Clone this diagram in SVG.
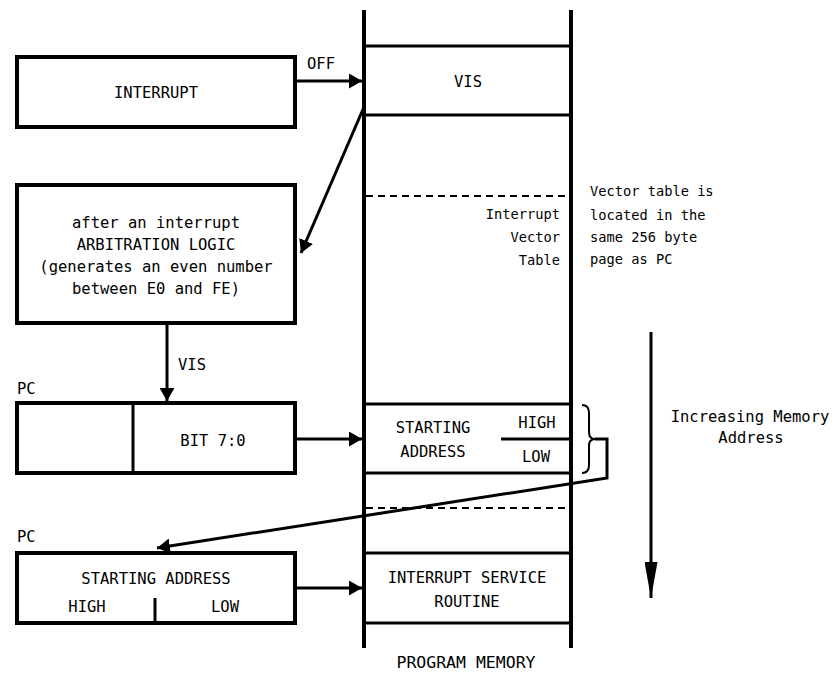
<svg xmlns="http://www.w3.org/2000/svg" width="834" height="673" viewBox="0 0 834 673">
<style>
.box{fill:#fff;stroke:#000;stroke-width:4}
.ln{stroke:#000;stroke-width:3;fill:none}
.thick{stroke:#000;stroke-width:4;fill:none}
.dash{stroke:#000;stroke-width:2;stroke-dasharray:7 5;fill:none}
.arr{stroke:#000;stroke-width:3;fill:none;marker-end:url(#ah)}
text{font-family:"DejaVu Sans Mono","Liberation Mono",monospace;font-size:15.5px;fill:#000}
.c{text-anchor:middle}
.r{text-anchor:end}
.s{font-size:13.7px}
</style>
<defs>
<marker id="ah" markerUnits="userSpaceOnUse" viewBox="0 0 13 15" refX="13" refY="7.5" markerWidth="13" markerHeight="15" orient="auto">
<path d="M0,0 L13,7.5 L0,15 z" fill="#000"/>
</marker>
<marker id="ahl" markerUnits="userSpaceOnUse" viewBox="0 0 36 13" refX="36" refY="6.5" markerWidth="36" markerHeight="13" orient="auto">
<path d="M0,0 L36,6.5 L0,13 z" fill="#000"/>
</marker>
</defs>

<g id="memory">
<line class="thick" x1="364" y1="10" x2="364" y2="648"/>
<line class="thick" x1="571" y1="10" x2="571" y2="648"/>
<line class="ln" x1="364" y1="46" x2="571" y2="46"/>
<line class="ln" x1="364" y1="115" x2="571" y2="115"/>
<text class="c" x="468" y="87">VIS</text>
<line class="dash" x1="366" y1="196" x2="569" y2="196"/>
<text class="r s" x="560" y="219">Interrupt</text>
<text class="r s" x="560" y="242">Vector</text>
<text class="r s" x="560" y="265">Table</text>
<line class="ln" x1="364" y1="404" x2="571" y2="404"/>
<line class="ln" x1="364" y1="473" x2="571" y2="473"/>
<line class="ln" x1="501" y1="439" x2="571" y2="439"/>
<text class="c" x="433" y="433">STARTING</text>
<text class="c" x="433" y="457">ADDRESS</text>
<text class="c" x="537" y="428">HIGH</text>
<text class="c" x="536" y="462">LOW</text>
<line class="dash" x1="366" y1="508" x2="569" y2="508"/>
<line class="ln" x1="364" y1="553" x2="571" y2="553"/>
<line class="ln" x1="364" y1="623" x2="571" y2="623"/>
<text class="c" x="467" y="583">INTERRUPT SERVICE</text>
<text class="c" x="467" y="607">ROUTINE</text>
<text class="c" x="466" y="668" style="font-size:16.5px">PROGRAM MEMORY</text>
</g>

<g id="brace">
<path class="ln" style="stroke-width:2" d="M582,405 Q589,405 589,413 L589,432 Q589,439 595,439 Q589,439 589,446 L589,465 Q589,473 582,473"/>
</g>

<g id="interrupt">
<rect class="box" x="17" y="57" width="278" height="70"/>
<text class="c" x="156" y="98">INTERRUPT</text>
</g>

<g id="arbitration">
<rect class="box" x="17" y="185" width="278" height="138"/>
<text class="c" x="156" y="228">after an interrupt</text>
<text class="c" x="156" y="250">ARBITRATION LOGIC</text>
<text class="c" x="156" y="272">(generates an even number</text>
<text class="c" x="156" y="294">between E0 and FE)</text>
</g>

<g id="pc1">
<text x="17" y="394">PC</text>
<rect class="box" x="17" y="403" width="278" height="70"/>
<line class="ln" x1="133" y1="403" x2="133" y2="473"/>
<text class="c" x="213" y="446">BIT 7:0</text>
</g>

<g id="pc2">
<text x="17" y="542">PC</text>
<rect class="box" x="17" y="553" width="278" height="70"/>
<text class="c" x="156" y="584">STARTING ADDRESS</text>
<text class="c" x="87" y="612">HIGH</text>
<text class="c" x="225" y="612">LOW</text>
<line class="ln" x1="155" y1="598" x2="155" y2="623"/>
</g>

<g id="note">
<text class="s" x="590" y="196">Vector table is</text>
<text class="s" x="590" y="220">located in the</text>
<text class="s" x="590" y="242">same 256 byte</text>
<text class="s" x="590" y="264">page as PC</text>
</g>

<g id="increasing">
<text class="c" x="750" y="422">Increasing Memory</text>
<text class="c" x="751" y="443">Address</text>
</g>

<g id="connectors">
<line class="arr" x1="297" y1="81" x2="362" y2="81"/>
<text x="307" y="69">OFF</text>
<line class="arr" x1="364" y1="107" x2="301" y2="253"/>
<line class="arr" x1="167" y1="325" x2="167" y2="401"/>
<text x="178" y="370">VIS</text>
<line class="arr" x1="297" y1="439" x2="362" y2="439"/>
<polyline class="arr" points="595,439 607,439 607,478 157,548"/>
<line class="arr" x1="297" y1="588" x2="362" y2="588"/>
<line class="ln" style="marker-end:url(#ahl)" x1="651" y1="332" x2="651" y2="598"/>
</g>
</svg>
